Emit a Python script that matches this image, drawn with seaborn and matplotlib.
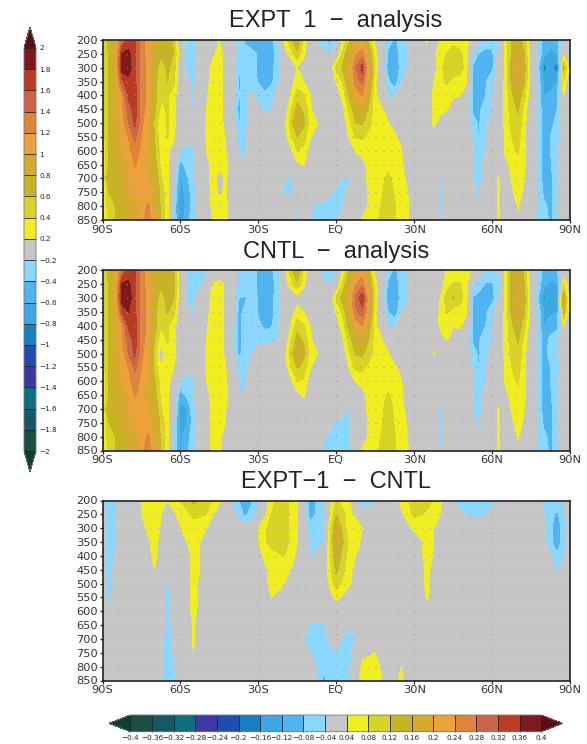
import numpy as np
import matplotlib
matplotlib.use("Agg")
import matplotlib.pyplot as plt
from matplotlib.colors import BoundaryNorm, ListedColormap
import seaborn as sns

sns.set_theme(style="white")
plt.rcParams["font.family"] = ["DejaVu Sans"]

pressures = [200, 250, 300, 350, 400, 450, 500, 550, 600, 650, 700, 750, 800, 850]
lats_sh = [-90, -87.5, -85, -82.5, -80, -77.5, -75, -72.5, -70, -67.5, -65, -62.5, -60, -57.5, -55, -52.5,
           -50, -47.5, -45, -42.5, -40, -37.5, -35, -32.5, -30, -27.5, -25, -22.5, -20, -17.5, -15]
lats_nh = [-12.5, -10, -7.5, -5, -2.5, 0, 2.5, 5, 7.5, 10, 12.5, 15, 17.5, 20, 22.5, 25, 27.5, 30, 32.5, 35, 37.5,
           40, 42.5, 45, 47.5, 50, 52.5, 55, 57.5, 60, 62.5, 65, 67.5, 70, 72.5, 75, 77.5, 80, 82.5, 85, 87.5, 90]
lats_diff = [-90, -87.5, -85, -80, -75, -70, -65, -60, -55, -50, -45, -40, -35, -30, -25, -20, -15, -10, -5, 0,
             5, 10, 15, 20, 25, 30, 35, 40, 45, 50, 55, 60, 62.5, 65, 70, 75, 80, 85, 87.5, 90]
lat_ticks = [-90, -60, -30, 0, 30, 60, 90]
lat_labels = ["90S", "60S", "30S", "EQ", "30N", "60N", "90N"]

# one row per pressure level
expt1_sh = [
 [.25,.7,.95,1.4,1.7,1.65,1.25,1.15,.9,.75,.7,.55,-.05,-.25,-.25,-.1,0,.1,.2,.05,-.05,-.3,-.45,-.5,-.5,-.5,-.45,-.25,.25,.55,.8],
 [.28,.65,.9,1.8,1.85,1.65,1.25,1.15,.8,.65,.7,.6,0,-.25,-.25,-.1,.02,.15,.28,.1,-.1,-.25,-.3,-.35,-.42,-.5,-.5,-.3,.1,.3,.55],
 [.3,.6,.95,1.9,1.9,1.65,1.3,1.15,.75,.45,.65,.5,-.05,-.25,-.25,-.05,.1,.28,.3,.1,-.1,-.4,-.3,-.3,-.45,-.62,-.5,-.25,0,0,.2],
 [.3,.6,.9,1.55,1.75,1.65,1.3,1.15,.7,.42,.6,.45,-.05,-.15,-.25,-.05,.12,.3,.3,.12,-.1,-.42,-.35,-.3,-.42,-.55,-.45,-.25,-.05,.1,.3],
 [.28,.65,.85,1.2,1.65,1.68,1.3,1.15,.7,.42,.42,.3,-.05,-.15,-.25,-.02,.17,.3,.3,.12,-.12,-.42,-.25,-.15,-.3,-.35,-.28,-.1,0,.22,.5],
 [.25,.65,.85,1.15,1.5,1.68,1.3,1.1,.65,.35,.42,.28,-.05,-.1,-.22,0,.2,.3,.3,.1,-.12,-.45,-.3,-.12,-.15,-.25,-.22,-.05,.05,.35,.7],
 [.25,.65,.9,1.1,1.4,1.65,1.25,1.05,.55,.15,.42,.28,-.05,-.1,-.22,0,.22,.3,.3,.12,-.12,-.42,-.25,-.1,-.05,0,0,0,.12,.5,.88],
 [.25,.65,.85,1.05,1.2,1.45,1.2,1.0,.6,.28,.42,.22,-.05,-.1,-.1,0,.22,.3,.3,.18,0,-.25,-.22,-.05,0,0,0,0,.08,.35,.6],
 [.25,.6,.85,1.0,1.15,1.3,1.15,.95,.65,.3,.25,.1,-.2,-.28,-.22,0,.2,.28,.28,.2,.05,-.22,-.2,-.02,0,0,0,0,0,.15,.4],
 [.22,.6,.75,.9,1.0,1.22,1.1,.9,.7,.35,.25,-.02,-.5,-.3,-.22,-.05,.15,.25,.22,.25,.1,-.21,-.1,0,0,0,0,0,-.02,.02,.15],
 [.15,.85,.7,.85,1.0,1.1,1.05,1.0,.85,.42,.25,-.1,-.65,-.45,-.22,-.1,.15,.25,.15,.22,.1,-.05,0,0,0,0,0,0,-.2,-.22,0],
 [.1,.6,.65,.8,.95,1.05,1.05,1.05,.95,.5,.3,-.2,-.72,-.5,-.3,-.1,.12,.25,.18,.22,.05,0,0,0,0,0,0,0,-.22,-.22,-.05],
 [.1,.55,.6,.7,.85,.9,1.05,1.25,.95,.55,.3,-.25,-.75,-.55,-.3,-.1,.08,.25,.25,.25,.02,0,0,0,0,0,0,0,-.08,-.1,-.22],
 [.05,.5,.6,.65,.8,.85,1.1,1.35,1.0,.6,.25,-.25,-.7,-.5,-.25,-.08,.05,.25,.28,.25,.05,0,0,0,0,0,0,0,-.02,-.1,-.25],
]
expt1_nh = [
 [.35,0,-.22,-.4,-.45,-.25,.22,.55,.85,1.0,.55,.1,-.1,-.3,-.45,-.3,-.22,0,.05,.25,0,.22,.3,.3,.3,.25,.1,-.1,-.25,-.3,-.2,.25,.6,.7,.5,0,-.2,-.5,-.55,-.5,-.1,0],
 [.25,.02,0,-.1,-.22,0,.45,.8,1.15,1.3,.8,.3,-.05,-.45,-.55,-.3,-.22,0,0,.05,.15,.3,.4,.55,.45,.3,-.2,-.42,-.5,-.45,-.1,.25,.6,.9,.6,.05,-.2,-.55,-.65,-.6,.2,0],
 [.05,.05,0,0,0,.45,.65,.95,1.4,1.7,1.0,.3,-.05,-.5,-.62,-.3,-.22,0,0,0,.1,.3,.55,.6,.55,.3,-.45,-.5,-.5,-.45,-.1,.25,.7,1.05,.65,.1,-.3,-.9,-.7,-.95,.65,.1],
 [.2,.05,0,0,0,.22,.42,.85,1.3,1.45,.95,.25,0,-.35,-.55,-.22,-.05,0,0,0,.2,.3,.45,.3,.28,.22,-.42,-.45,-.42,-.25,-.05,.25,.65,.95,.6,.05,-.25,-.65,-.7,-.6,.4,0],
 [.42,.2,0,0,0,.1,.25,.65,1.05,1.2,.7,.25,.05,-.25,-.22,-.05,0,0,0,0,.25,.28,.22,.22,.22,.1,-.4,-.42,-.4,-.22,0,.25,.55,.75,.45,.02,-.22,-.6,-.55,-.45,.22,0],
 [.55,.25,0,0,0,0,.15,.45,.75,.9,.55,.3,.22,.05,0,0,0,0,0,0,.22,.25,.22,.1,0,0,-.42,-.42,-.35,-.22,0,.25,.5,.62,.3,0,-.22,-.55,-.45,-.4,-.05,0],
 [.65,.3,.22,0,0,0,.05,.35,.6,.62,.45,.32,.28,.22,.02,0,0,0,0,0,.25,.12,.05,0,0,0,-.35,-.42,-.25,-.1,0,.25,.45,.55,.25,0,-.2,-.5,-.45,-.35,-.02,0],
 [.48,.22,.02,0,0,0,0,.22,.42,.42,.35,.32,.32,.3,.25,.12,0,0,0,0,.1,0,0,0,0,0,-.22,-.42,-.22,-.05,0,.22,.4,.5,.22,0,-.2,-.5,-.4,-.3,0,0],
 [.35,.05,0,0,0,0,0,.05,.22,.3,.32,.32,.32,.3,.3,.22,0,0,0,0,0,0,0,0,0,0,-.22,-.3,-.2,-.02,0,.22,.35,.42,.22,0,-.22,-.5,-.4,-.28,0,0],
 [.22,0,0,0,0,0,0,0,0,.1,.28,.32,.32,.35,.3,.25,.05,0,0,0,0,-.15,0,0,0,0,-.22,-.28,-.05,0,.1,.15,.25,.35,.22,0,-.22,-.5,-.42,-.28,0,0],
 [0,0,0,0,-.05,-.05,-.2,-.22,-.02,.1,.25,.3,.35,.45,.35,.27,.15,0,0,0,0,-.25,0,0,0,0,-.22,-.28,-.05,0,.22,.05,.22,.3,.2,0,-.22,-.5,-.45,-.28,0,0],
 [0,0,0,-.05,-.15,-.3,-.3,-.1,0,.05,.22,.3,.38,.5,.38,.3,.2,0,0,0,0,-.25,0,0,0,0,-.05,-.25,-.02,0,.22,0,.15,.3,.15,0,-.22,-.45,-.45,-.28,0,0],
 [-.05,-.15,-.25,-.28,-.3,-.3,-.2,-.05,0,.1,.22,.3,.42,.5,.42,.3,.25,0,0,0,0,-.25,0,0,0,0,0,-.22,0,0,.22,0,.05,.22,.05,0,-.22,-.35,-.45,-.25,0,0],
 [-.05,-.22,-.3,-.3,-.3,-.25,-.05,0,.05,.22,.28,.35,.45,.55,.42,.3,.22,0,0,0,0,-.22,-.05,0,0,0,0,-.15,0,0,.22,0,0,.15,0,0,-.22,-.3,-.45,-.25,0,0],
]
cntl_sh = [
 [.25,.7,.95,1.4,1.7,1.65,1.25,1.15,.9,.75,.75,.6,0,-.22,-.3,-.3,-.25,0,0,0,-.1,-.25,-.3,-.32,-.42,-.5,-.45,-.3,.1,.5,.8],
 [.28,.65,.9,1.82,1.85,1.65,1.25,1.15,.8,.65,.72,.65,0,-.22,-.3,-.25,-.1,.22,.28,.15,-.1,-.25,-.3,-.3,-.45,-.55,-.5,-.28,.1,.3,.55],
 [.3,.6,.95,1.92,1.92,1.65,1.3,1.15,.75,.45,.7,.6,0,-.22,-.25,-.05,.1,.28,.3,.15,-.1,-.4,-.42,-.3,-.42,-.62,-.5,-.25,-.1,0,.1],
 [.3,.6,.9,1.6,1.8,1.65,1.3,1.15,.7,.42,.62,.45,-.05,-.15,-.22,-.05,.12,.3,.3,.15,-.1,-.45,-.35,-.3,-.42,-.6,-.5,-.25,-.05,.1,.3],
 [.28,.65,.85,1.2,1.65,1.68,1.3,1.15,.7,.42,.42,.3,-.05,-.1,-.2,-.02,.17,.3,.3,.15,-.12,-.45,-.3,-.25,-.35,-.45,-.42,-.22,-.05,.22,.5],
 [.25,.65,.85,1.15,1.5,1.68,1.3,1.1,.6,.25,.42,.28,-.05,-.1,-.15,0,.2,.3,.3,.15,-.12,-.45,-.3,-.22,-.25,-.28,-.28,-.22,-.02,.35,.7],
 [.25,.65,.9,1.1,1.4,1.65,1.25,1.05,.5,.1,.35,.28,-.05,-.1,-.12,0,.22,.3,.3,.15,-.12,-.45,-.3,-.2,-.1,-.02,0,0,.12,.5,.88],
 [.25,.65,.85,1.05,1.2,1.45,1.2,1.0,.55,.18,.38,.2,-.05,-.12,-.1,0,.22,.3,.3,.2,0,-.28,-.25,-.1,0,0,0,0,.08,.35,.62],
 [.25,.6,.85,1.0,1.15,1.3,1.15,.95,.65,.3,.28,.05,-.22,-.3,-.22,0,.2,.28,.28,.22,.05,-.22,-.22,-.05,0,0,0,0,0,.15,.4],
 [.22,.6,.75,.9,1.0,1.22,1.1,.9,.7,.35,.25,-.05,-.55,-.35,-.22,-.05,.15,.25,.25,.25,.1,-.22,-.15,0,0,0,0,0,0,.02,.15],
 [.15,.85,.7,.85,1.0,1.1,1.05,1.0,.85,.42,.25,-.15,-.65,-.62,-.25,-.08,.12,.25,.25,.2,.05,-.1,0,0,0,0,0,0,-.22,-.05,0],
 [.1,.6,.65,.8,.95,1.05,1.05,1.05,.95,.5,.3,-.2,-.65,-.6,-.3,-.08,.1,.25,.28,.2,.02,0,0,0,0,0,0,0,-.05,-.05,0],
 [.1,.55,.6,.7,.85,.9,1.05,1.25,.95,.55,.3,-.25,-.65,-.5,-.25,-.08,.08,.28,.28,.02,0,0,0,0,0,0,0,0,0,0,-.05],
 [.05,.5,.6,.65,.8,.85,1.1,1.35,1.0,.6,.25,-.25,-.62,-.45,-.25,-.08,.05,.28,.28,.02,0,0,0,0,0,0,0,0,0,-.05,-.22],
]
cntl_nh = [
 [.35,0,-.05,-.35,-.42,-.25,.22,.6,.9,1.05,.6,.1,-.1,-.3,-.45,-.3,-.22,0,0,0,0,0,.22,.3,.3,.3,.15,-.1,-.25,-.3,-.22,.22,.65,.75,.55,0,-.22,-.5,-.55,-.45,-.05,0],
 [.25,.02,0,-.1,-.22,0,.45,.85,1.2,1.35,.85,.3,-.05,-.45,-.55,-.3,-.22,0,0,0,.02,.1,.3,.42,.42,.3,-.2,-.28,-.42,-.42,-.25,.22,.7,.95,.6,.05,-.25,-.55,-.62,-.6,.42,0],
 [.05,.05,0,0,0,.42,.7,1.0,1.45,1.75,1.05,.3,-.05,-.55,-.62,-.3,-.22,0,0,0,0,.2,.5,.62,.5,.3,-.42,-.5,-.5,-.5,-.22,.25,.7,1.05,.65,.1,-.35,-.85,-.7,-.65,.85,.05],
 [.2,.05,0,0,0,.22,.45,.9,1.35,1.5,1.0,.25,0,-.4,-.55,-.22,-.05,0,0,0,0,.25,.42,.3,.3,.22,-.42,-.45,-.45,-.25,-.05,.25,.65,.95,.6,.05,-.25,-.62,-.65,-.6,.65,0],
 [.42,.2,0,0,0,.1,.28,.7,1.05,1.2,.75,.25,.05,-.25,-.22,-.05,0,0,0,0,.05,.25,.25,.22,.25,.1,-.4,-.42,-.4,-.22,0,.25,.55,.75,.45,.02,-.22,-.6,-.5,-.45,.22,0],
 [.55,.25,0,0,0,0,.18,.5,.78,.9,.6,.3,.22,.05,0,0,0,0,0,0,.15,.05,.22,.05,0,0,-.42,-.42,-.25,-.22,0,.25,.5,.62,.3,0,-.22,-.5,-.35,-.3,.05,0],
 [.68,.3,.22,0,0,0,.05,.38,.62,.65,.48,.32,.28,.22,.02,0,0,0,0,0,.22,0,0,0,0,0,-.35,-.42,-.28,-.05,0,.25,.45,.55,.25,0,-.2,-.5,-.3,-.28,0,0],
 [.5,.22,.02,0,0,0,0,.22,.45,.45,.35,.32,.32,.3,.25,.12,0,0,0,0,0,0,0,0,0,0,-.22,-.42,-.22,-.05,0,.22,.4,.5,.22,0,-.2,-.5,-.4,-.3,0,0],
 [.38,.05,0,0,0,0,0,.05,.22,.3,.32,.32,.32,.32,.3,.22,0,0,0,0,0,0,0,0,0,0,-.22,-.3,-.2,-.02,0,.22,.35,.42,.22,0,-.22,-.5,-.4,-.28,0,0],
 [.25,0,0,0,0,0,0,0,0,.1,.28,.32,.35,.42,.35,.25,.05,0,0,0,0,-.15,0,0,0,0,-.22,-.28,-.05,0,.1,.15,.25,.35,.22,0,-.22,-.5,-.42,-.28,0,0],
 [0,0,0,0,0,0,-.05,-.22,0,.1,.25,.3,.38,.45,.38,.27,.12,0,0,0,0,-.25,0,0,0,0,-.22,-.28,-.05,0,.22,.05,.22,.3,.2,0,-.22,-.5,-.45,-.28,0,0],
 [0,0,0,0,-.05,-.25,-.3,-.22,0,.05,.22,.3,.38,.5,.38,.28,.18,0,0,0,0,-.25,0,0,0,0,-.05,-.25,-.02,0,.22,0,.15,.3,.15,0,-.22,-.45,-.45,-.28,0,0],
 [0,-.05,-.1,-.15,-.3,-.3,-.3,-.22,0,.1,.22,.3,.42,.5,.42,.28,.2,0,0,0,0,-.25,0,0,0,0,0,-.22,0,0,.22,0,.05,.22,.05,0,-.22,-.35,-.45,-.25,0,0],
 [-.1,-.25,-.15,-.22,-.3,-.3,-.3,-.22,0,.22,.28,.35,.45,.55,.42,.3,.22,0,0,0,0,-.22,-.05,0,0,0,0,-.15,0,0,.22,0,0,.15,0,0,-.22,-.3,-.45,-.25,0,0],
]
# one row per latitude, one value per pressure level
expt1_minus_cntl = [
 [-.02,-.02,-.02,-.02,-.02,-.02,-.01,-.01,0,0,0,0,0,0],
 [-.07,-.07,-.07,-.07,-.07,-.065,-.06,-.055,-.04,0,0,0,0,0],
 [-.045,-.045,-.045,-.045,-.03,-.02,-.01,0,0,0,0,0,0,0],
 [0,0,0,0,0,0,0,0,0,0,0,0,0,0],
 [.04,.04,.03,.01,0,0,0,0,0,0,0,0,0,0],
 [.06,.06,.06,.055,.05,.04,.01,0,0,0,0,0,0,0],
 [.04,.02,.01,0,0,-.04,-.045,-.05,-.05,-.05,-.055,-.055,-.06,-.065],
 [.08,.05,.04,.03,0,0,0,0,0,-.01,-.015,-.02,-.025,-.025],
 [.13,.09,.06,.05,.05,.05,.05,.05,.05,.045,.045,.04,.03,0],
 [.1,.08,.04,.03,.03,.03,.02,.02,.01,0,0,0,0,0],
 [.05,.01,0,0,0,0,0,0,0,0,0,0,0,0],
 [-.04,-.03,0,0,0,0,0,0,0,0,0,0,0,0],
 [-.12,-.09,-.03,0,0,0,0,0,0,0,0,0,0,.02],
 [-.05,-.03,.04,.04,.03,.02,.01,0,0,0,0,0,0,0],
 [.07,.08,.1,.1,.06,.05,.05,.04,0,0,0,0,0,0],
 [.1,.1,.1,.1,.08,.06,.04,.01,0,0,0,0,0,0],
 [.04,.045,.04,.04,.03,.02,.01,0,0,0,-.02,-.01,0,0],
 [-.1,-.1,-.06,-.05,-.045,-.01,0,0,0,-.045,-.06,-.04,-.01,0],
 [-.05,-.05,-.045,-.04,-.01,0,0,0,0,-.045,-.05,-.05,-.07,-.09],
 [.09,.12,.17,.18,.15,.13,.1,.05,0,0,-.02,-.04,-.045,-.05],
 [.04,.06,.05,.07,.06,.05,.045,.02,0,-.03,-.07,-.06,-.05,-.05],
 [-.07,-.02,.04,.035,.02,.01,0,0,0,0,0,.03,.05,.07],
 [-.05,0,0,0,0,0,0,0,0,0,0,.04,.06,.08],
 [0,0,0,0,0,0,0,0,0,0,0,0,0,0],
 [.05,.03,0,0,0,0,0,0,0,0,0,0,.04,.05],
 [.1,.09,.05,0,0,0,0,0,0,0,0,0,0,0],
 [.1,.07,.05,.06,.06,.05,.05,.045,0,0,0,0,0,0],
 [.05,.04,.03,.02,.01,0,0,0,0,0,0,0,0,0],
 [-.04,-.01,0,0,0,0,0,0,0,0,0,0,0,0],
 [-.08,-.045,0,0,0,0,0,0,0,0,0,0,0,0],
 [-.08,-.06,0,0,0,0,0,0,0,0,0,0,0,0],
 [-.045,-.03,0,0,0,0,0,0,0,0,0,0,0,0],
 [-.05,0,0,0,0,0,0,0,0,0,0,0,0,0],
 [-.045,0,0,0,0,0,0,0,0,0,0,0,0,0],
 [0,0,0,0,0,0,0,0,0,0,0,0,0,0],
 [0,0,0,0,0,0,0,0,0,0,0,0,0,0],
 [-.05,-.04,-.03,-.03,0,0,0,0,0,0,0,0,0,0],
 [-.05,-.09,-.11,-.11,-.07,-.05,0,0,0,0,0,0,0,0],
 [-.05,-.05,-.06,-.06,-.05,-.01,0,0,0,0,0,0,0,0],
 [0,0,0,0,0,0,0,0,0,0,0,0,0,0],
]

levels_main = [-2, -1.8, -1.6, -1.4, -1.2, -1, -.8, -.6, -.4, -.2, .2, .4, .6, .8, 1, 1.2, 1.4, 1.6, 1.8, 2]
levels_diff = [-.4, -.36, -.32, -.28, -.24, -.2, -.16, -.12, -.08, -.04, .04, .08, .12, .16, .2, .24, .28, .32, .36, .4]
label_main = ["\u22122", "\u22121.8", "\u22121.6", "\u22121.4", "\u22121.2", "\u22121", "\u22120.8", "\u22120.6", "\u22120.4", "\u22120.2",
              "0.2", "0.4", "0.6", "0.8", "1", "1.2", "1.4", "1.6", "1.8", "2"]
label_diff = ["\u22120.4", "\u22120.36", "\u22120.32", "\u22120.28", "\u22120.24", "\u22120.2", "\u22120.16", "\u22120.12", "\u22120.08", "\u22120.04",
              "0.04", "0.08", "0.12", "0.16", "0.2", "0.24", "0.28", "0.32", "0.36", "0.4"]
band_colors = ["#1b4f43", "#155966", "#0e6d80", "#3f38a3", "#204cb0", "#1780bf", "#3ba7e3", "#4fb4ef", "#8ad7ff",
               "#c6c6c6", "#f0ee20", "#d8d425", "#c8b325", "#d8a92f", "#eba23a", "#de853b", "#cc6448", "#b93c22", "#7f1a1c"]
under_color = "#0e3e2c"
over_color = "#5a0f0f"

W, H = 587, 744
fig = plt.figure(figsize=(W / 100, H / 100), dpi=100, facecolor="white")
cmap = ListedColormap(sns.color_palette(band_colors))
cmap.set_under(under_color)
cmap.set_over(over_color)


def box(x0, y0, x1, y1):
    return [x0 / W, 1 - y1 / H, (x1 - x0) / W, (y1 - y0) / H]


def panel(x, z, levels, top, title, base):
    ax = fig.add_axes(box(102.5, top, 570, top + 180))
    cs = ax.contourf(x, pressures, z, levels=levels, cmap=cmap,
                     norm=BoundaryNorm(levels, len(band_colors)), extend="both")
    ax.set_xlim(-90, 90)
    ax.set_ylim(850, 200)
    ax.set_xticks(lat_ticks, lat_labels)
    ax.set_yticks(pressures, [str(p) for p in pressures])
    ax.tick_params(axis="both", length=2.5, width=0.9, color="#222222", labelcolor="#333333",
                   labelsize=8.2, pad=1, bottom=True, left=True)
    ax.grid(True, color="#a0a0a0", lw=0.7, linestyle=(0, (1, 7)))
    ax.set_axisbelow(False)
    for s in ax.spines.values():
        s.set_linewidth(1.2)
        s.set_color("#222222")
        s.set_zorder(6)
    fig.text(336 / W, 1 - base / H, title, ha="center", va="baseline", fontsize=17,
             family="Liberation Sans", color="#222222")
    return cs


lats_full = lats_sh + lats_nh
cs1 = panel(lats_full, np.hstack([np.array(expt1_sh), np.array(expt1_nh)]), levels_main, 40,
            "EXPT  1  \u2212  analysis", 27)
panel(lats_full, np.hstack([np.array(cntl_sh), np.array(cntl_nh)]), levels_main, 270.5,
      "CNTL  \u2212  analysis", 258)
cs3 = panel(lats_diff, np.array(expt1_minus_cntl, dtype=float).T, levels_diff, 500.5,
            "EXPT\u22121  \u2212  CNTL", 488)


def bar(cs, rect, orient, ticks, labels):
    cax = fig.add_axes(rect)
    cb = fig.colorbar(cs, cax=cax, orientation=orient, spacing="uniform", extend="both",
                      extendfrac=0.052, drawedges=True)
    cb.set_ticks(ticks, labels=labels)
    cb.minorticks_off()
    cb.ax.tick_params(length=0, labelsize=5.2, pad=2.5, labelcolor="#222222")
    cb.outline.set_edgecolor("#777777")
    cb.outline.set_linewidth(0.6)
    cb.dividers.set_color("#222222")
    cb.dividers.set_linewidth(0.6)
    return cb


bar(cs1, box(24, 27, 36, 472), "vertical", levels_main, label_main)
bar(cs3, box(109, 715, 562.7, 731.7), "horizontal", levels_diff, label_diff)

fig.savefig("out.png", dpi=100, facecolor="white")
